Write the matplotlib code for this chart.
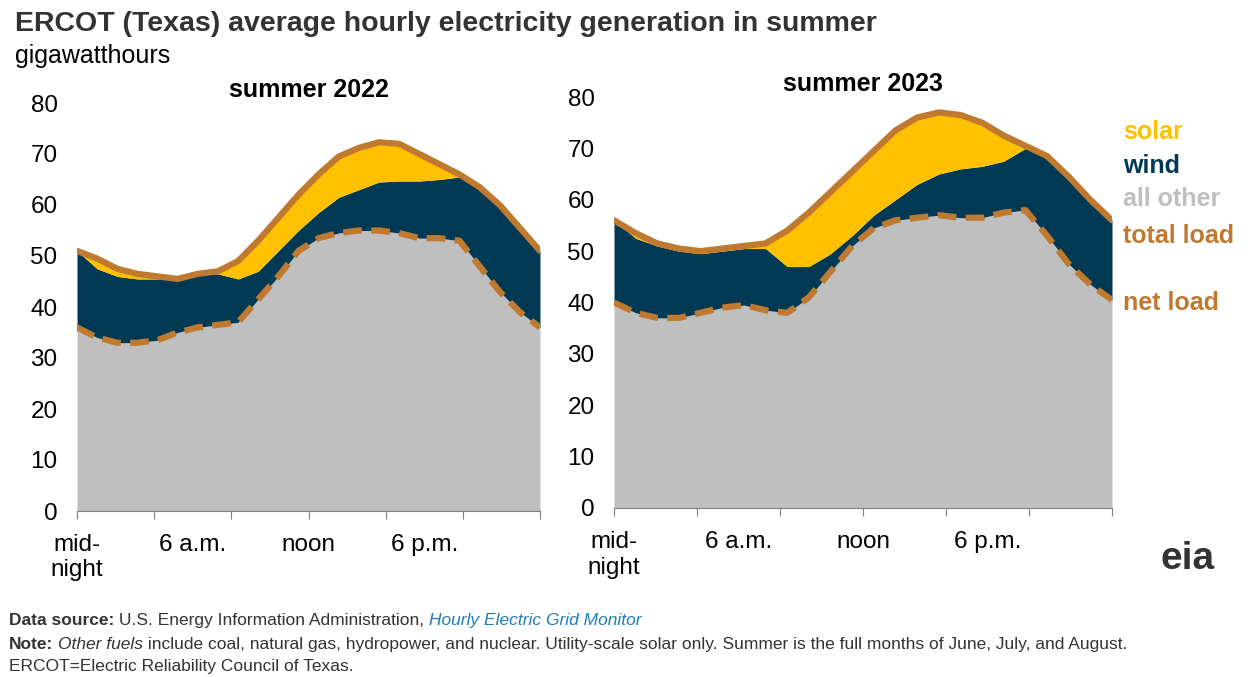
import numpy as np
import matplotlib.pyplot as plt

hours = np.arange(24)

total_2022 = [51, 49.5, 47.5, 46.5, 46, 45.5, 46.5, 47, 49, 53, 57.5, 62, 66, 69.5,
              71.2, 72.3, 72, 70, 68, 66, 63.5, 60, 55.5, 51]
windtop_2022 = [51, 47.5, 46, 45.5, 45.5, 46, 46.5, 46.5, 45.5, 47, 51, 55, 58.5, 61.5,
                63, 64.5, 64.7, 64.7, 65, 65.5, 63.5, 60, 55.5, 51]
net_2022 = [36, 34, 33, 33, 33.5, 35, 36, 36.5, 37, 41.5, 46, 51, 53.5, 54.5,
            55, 55, 54.5, 53.5, 53.5, 53, 48, 43, 39, 36]

total_2023 = [56, 53.5, 51.5, 50.5, 50, 50.5, 51, 51.5, 54, 57.5, 61.5, 65.5, 69.5, 73.5,
              76, 77, 76.5, 75, 72.5, 70.5, 68.5, 64.5, 60, 56]
windtop_2023 = [56, 52.5, 51, 50, 49.5, 50, 50.5, 50.5, 47, 47, 49.5, 53, 57, 60,
                63, 65, 66, 66.5, 67.5, 70, 68.5, 64.5, 60, 56]
net_2023 = [40, 38, 37, 37, 38, 39, 39.5, 38.5, 38, 41, 46, 51, 54.5, 56,
            56.5, 57, 56.5, 56.5, 57.5, 58, 53, 47.5, 43.5, 40.5]

tick_labels = ['mid-\nnight', '6 a.m.', 'noon', '6 p.m.']
label_hours = [0, 6, 12, 18]

GRAY = '#bfbfbf'
NAVY = '#003953'
GOLD = '#ffc000'
LINE = '#c07a30'

plt.rcParams['font.family'] = ['Liberation Sans', 'DejaVu Sans']
fig = plt.figure(figsize=(12.55, 6.77), dpi=100)

panels = [
    ([77/1255, 166/677, 463/1255, 408/677], total_2022, windtop_2022, net_2022, 'summer 2022'),
    ([614/1255, 169/677, 498/1255, 411/677], total_2023, windtop_2023, net_2023, 'summer 2023'),
]
for rect, tot, wt, net, title in panels:
    ax = fig.add_axes(rect)
    ax.fill_between(hours, 0, net, color=GRAY, lw=0)
    ax.fill_between(hours, net, wt, color=NAVY, lw=0)
    ax.fill_between(hours, wt, tot, color=GOLD, lw=0)
    ax.plot(hours, tot, color=LINE, lw=4.5, solid_joinstyle='round', solid_capstyle='round')
    ax.plot(hours, net, color=LINE, lw=4.5, ls=(0, (3, 1.5)), dash_joinstyle='round')
    ax.set_xlim(0, 23)
    ax.set_ylim(0, 80)
    ax.set_yticks(range(0, 81, 10))
    ax.set_xticks(np.linspace(0, 23, 7))
    ax.set_xticklabels([])
    ax.tick_params(axis='x', length=6, color='#808080')
    ax.tick_params(axis='y', length=0, labelsize=17.5, pad=14)
    for h, lab in zip(label_hours, tick_labels):
        ax.text(h * 23 / 24, -4.5, lab, ha='center', va='top', fontsize=17.5,
                transform=ax.transData)
    for s in ['top', 'right', 'left']:
        ax.spines[s].set_visible(False)
    ax.spines['bottom'].set_color('#808080')
    ax.set_title(title, fontsize=18, fontweight='bold', pad=4)

fig.text(0.012, 0.965, 'ERCOT (Texas) average hourly electricity generation in summer',
         fontsize=20.5, fontweight='bold', color='#333333', va='center')
fig.text(0.012, 0.917, 'gigawatthours', fontsize=18, va='center')

legend = [('solar', GOLD, 0.805), ('wind', NAVY, 0.755), ('all other', GRAY, 0.706),
          ('total load', LINE, 0.651), ('net load', LINE, 0.553)]
for txt, c, y in legend:
    fig.text(0.895, y, txt, fontsize=18, fontweight='bold', color=c, va='center')

fig.text(0.925, 0.16, 'eia', fontsize=28, fontweight='bold', color='#333333')

renderer = fig.canvas.get_renderer()


def line(y, parts):
    x = 0.007
    for txt, kw in parts:
        opts = dict(fontsize=12.5, va='center', color='#333333')
        opts.update(kw)
        t = fig.text(x, y, txt, **opts)
        bb = t.get_window_extent(renderer)
        x += bb.width / fig.bbox.width


line(0.083, [('Data source:', dict(fontweight='bold')),
             ('\u00a0U.S. Energy Information Administration,\u00a0', {}),
             ('Hourly Electric Grid Monitor', dict(style='italic', color='#1f7fb4'))])
line(0.048, [('Note:', dict(fontweight='bold')), ('\u00a0', {}),
             ('Other fuels', dict(style='italic')),
             ('\u00a0include coal, natural gas, hydropower, and nuclear. Utility-scale solar only. '
              'Summer is the full months of June, July, and August.', {})])
line(0.016, [('ERCOT=Electric Reliability Council of Texas.', {})])

fig.savefig('out.png', dpi=100)
